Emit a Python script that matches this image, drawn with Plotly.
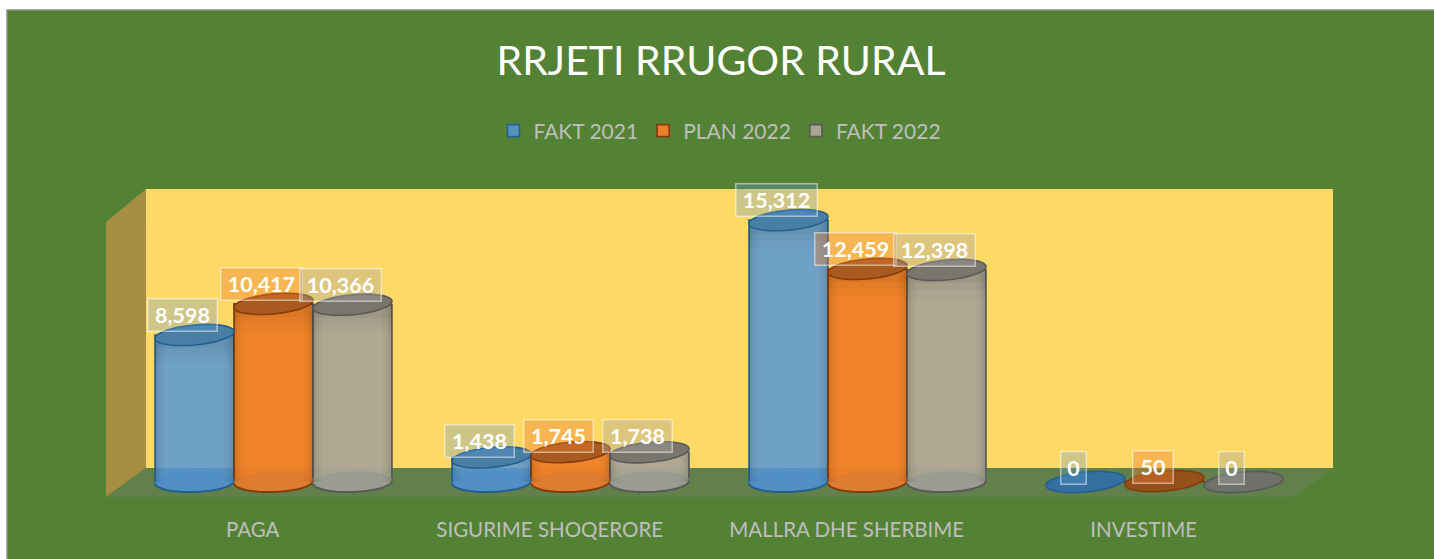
import numpy as np
import plotly.graph_objects as go

categories = ["PAGA", "SIGURIME SHOQERORE", "MALLRA DHE SHERBIME", "INVESTIME"]
fakt_2021 = [8598, 1438, 15312, 0]
plan_2022 = [10417, 1745, 12459, 50]
fakt_2022 = [10366, 1738, 12398, 0]
series_names = ["FAKT 2021", "PLAN 2022", "FAKT 2022"]

W, H = 1434, 559
PLOT_BOTTOM = 515
FONT = "Lato"

body = ["rgba(86,151,215,0.85)", "rgba(240,128,40,0.95)", "rgba(172,165,150,0.95)"]
edge = ["#24608F", "#843C0C", "#595959"]
faint = ["rgba(70,140,205,0.8)", "rgba(230,120,40,0.8)", "rgba(150,155,150,0.8)"]
top_fill = ["#4A7FA5", "#A85A20", "#7A766C"]
base_fill = ["#528FC6", "#DE7C30", "#9A9C90"]
flat_fill = ["#34709F", "#95501A", "#6F726A"]
box_fill = ["rgba(91,155,213,0.30)", "rgba(237,125,49,0.38)", "rgba(165,165,165,0.38)"]
box_width = {1: 18, 2: 33, 5: 62, 6: 74}

PX_PER_GROUP = 297
GROUP0_PX = 273.5
PX_PER_UNIT = 0.0171
BASE_PX = 482
BAR_PX = 79

x_range = [-GROUP0_PX / PX_PER_GROUP, (W - GROUP0_PX) / PX_PER_GROUP]
y_range = [(BASE_PX - PLOT_BOTTOM) / PX_PER_UNIT, BASE_PX / PX_PER_UNIT]


def px(x, y):
    return x / W, (PLOT_BOTTOM - y) / PLOT_BOTTOM


def poly(points, fill, line=None, lw=0):
    path = ""
    for i, (a, b) in enumerate(points):
        u, v = px(a, b)
        path += ("M" if i == 0 else "L") + f"{u:.5f},{v:.5f} "
    return dict(type="path", path=path + "Z", xref="paper", yref="paper", fillcolor=fill,
                line=dict(color=line or fill, width=lw), layer="below")


shapes = []
x0, y0 = px(7, 10)
x1, y1 = px(W + 10, H + 10)
shapes.append(dict(type="rect", xref="paper", yref="paper", x0=x0, y0=y0, x1=x1, y1=y1,
                   fillcolor="#548235", line=dict(color="#8C8C8C", width=1.5), layer="below"))
shapes.append(poly([(146, 189), (1333, 189), (1333, 468), (146, 468)], "#FFD966"))
shapes.append(poly([(106, 222), (146, 189), (146, 468), (106, 497)], "#A68E42"))
shapes.append(poly([(146, 468), (1333, 468), (1294, 497), (106, 497)], "#61804A"))

semi_x = (BAR_PX / 2) / PX_PER_GROUP
semi_y = 10 / PX_PER_UNIT
tilt = 3.5 / PX_PER_UNIT
base_tilt = 1.2 / PX_PER_UNIT
angles = np.linspace(0, 2 * np.pi, 49)[:-1]
lower = np.linspace(np.pi, 2 * np.pi, 25)


def outline(cx, val, t, lean):
    xs = cx + semi_x * np.cos(t)
    ys = val + semi_y * np.sin(t) + lean * np.cos(t)
    return "M" + " L".join(f"{a:.4f},{b:.1f}" for a, b in zip(xs, ys))


def ellipse(cx, val, fill, line, width=1.6, lean=tilt):
    return dict(type="path", path=outline(cx, val, angles, lean) + " Z", xref="x", yref="y", fillcolor=fill,
                line=dict(color=line, width=width), layer="above")


def lower_arc(cx, val, line, width=2):
    return dict(type="path", path=outline(cx, val, lower, base_tilt), xref="x", yref="y",
                fillcolor="rgba(0,0,0,0)", line=dict(color=line, width=width), layer="above")


def shade(x_a, x_b, y_a, y_b, alpha):
    return dict(type="rect", xref="x", yref="y", x0=x_a, x1=x_b, y0=y_a, y1=y_b,
                fillcolor=f"rgba(0,0,0,{alpha})", line=dict(width=0), layer="above")


all_series = [fakt_2021, plan_2022, fakt_2022]
bar_w = BAR_PX / PX_PER_GROUP
annotations = []
for s, values in enumerate(all_series):
    for g, v in enumerate(values):
        cx = g + (s - 1) * bar_w
        left, right = cx - bar_w / 2, cx + bar_w / 2
        if v > 100:
            shapes.append(ellipse(cx, 0, base_fill[s], faint[s], 1, base_tilt))
            shapes.append(lower_arc(cx, 0, edge[s]))
            # soft side shading of the cylinder
            for frac, alpha in [(0.12, 0.025), (0.08, 0.03), (0.04, 0.05)]:
                shapes.append(shade(left, left + bar_w * frac, 0, v, alpha))
                shapes.append(shade(right - bar_w * frac, right, 0, v, alpha))
            # soft shadow under the lid
            if v > 2500:
                for drop, alpha in [(28, 0.025), (20, 0.03), (13, 0.04)]:
                    shapes.append(shade(left, right, v - drop / PX_PER_UNIT, v, alpha))
            shapes.append(ellipse(cx, v, top_fill[s], edge[s]))
        else:
            shapes.append(ellipse(cx, v, flat_fill[s], edge[s]))
        label = f"{v:,}"
        annotations.append(dict(
            x=cx, y=v, xref="x", yref="y", text=label, showarrow=False,
            xanchor="center", yanchor="middle", xshift=-12,
            yshift=14 + 6 * min(v, 4000) / 4000,
            width=box_width[len(label)], height=25, align="center",
            font=dict(family=FONT, size=21.5, color="white", weight="bold"),
            bgcolor=box_fill[s], bordercolor="rgba(255,255,255,0.5)", borderwidth=1.5, borderpad=3))

fig = go.Figure()
for s, (name, values) in enumerate(zip(series_names, all_series)):
    fig.add_trace(go.Bar(
        name=name, x=list(range(len(categories))), y=values, width=bar_w,
        marker=dict(color=body[s], line=dict(color=edge[s], width=1.6)),
        hoverinfo="skip"))

fig.update_layout(
    width=W, height=H,
    margin=dict(l=0, r=0, t=0, b=H - PLOT_BOTTOM, autoexpand=False),
    barmode="group", bargap=1 - 3 * bar_w, bargroupgap=0,
    paper_bgcolor="white", plot_bgcolor="rgba(0,0,0,0)",
    font=dict(family=FONT),
    title=dict(text="RRJETI RRUGOR RURAL", x=721 / W, xanchor="center", y=1 - 61 / H, yanchor="middle",
               font=dict(family=FONT, size=41, color="white")),
    legend=dict(orientation="h", x=720 / W, xanchor="center", y=(PLOT_BOTTOM - 131) / PLOT_BOTTOM, yanchor="middle",
                font=dict(family=FONT, size=21, color="#BFBFBF"), bgcolor="rgba(0,0,0,0)", itemwidth=30,
                traceorder="normal"),
    xaxis=dict(range=x_range, tickmode="array", tickvals=[g - 0.07 for g in range(len(categories))],
               ticktext=categories, tickfont=dict(family=FONT, size=20.5, color="#BFBFBF"),
               showgrid=False, zeroline=False, showline=False, ticks=""),
    yaxis=dict(range=y_range, visible=False, showgrid=False, zeroline=False),
    shapes=shapes, annotations=annotations,
)

fig.write_html("out.html", config=dict(displayModeBar=False),
               post_script="document.body.style.margin='0';document.body.style.overflow='hidden';")
